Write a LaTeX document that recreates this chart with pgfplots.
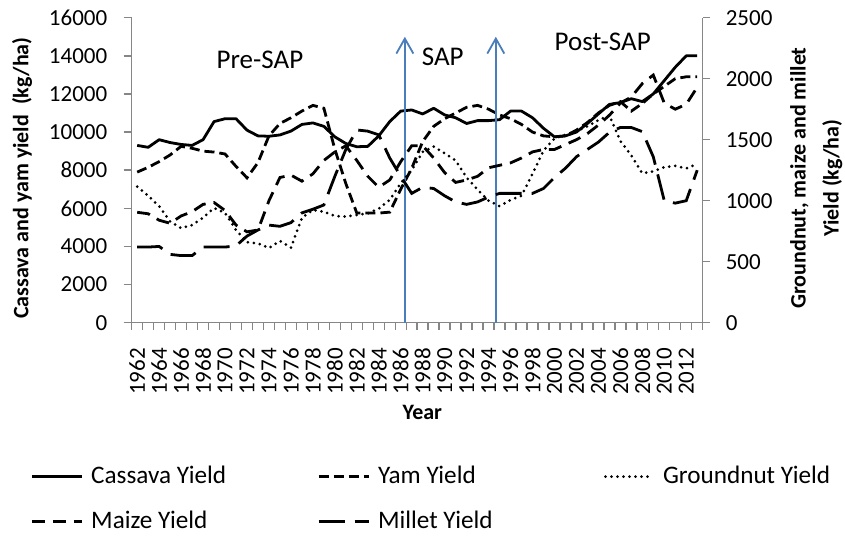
\documentclass[border=0pt]{standalone}
\usepackage{fontspec}
\setmainfont{Carlito}
\usepackage{pgfplots}
\pgfplotsset{compat=1.18}
\usepackage{pgfplotstable}
\usetikzlibrary{arrows.meta}
\definecolor{axgray}{RGB}{134,134,134}
\definecolor{arrowblue}{RGB}{74,126,187}

\pgfplotstableread{
year cassava yam groundnut maize millet
1962 9300 7900 1115 905 620
1963 9200 8150 1040 893 620
1964 9600 8450 955 840 625
1965 9450 8800 830 815 560
1966 9350 9250 775 875 550
1967 9300 9150 800 910 550
1968 9600 9000 860 970 620
1969 10550 8950 940 985 620
1970 10700 8850 900 920 620
1971 10700 8200 760 800 630
1972 10100 7600 660 745 710
1973 9800 8400 650 760 760
1974 9780 9800 612 1000 800
1975 9850 10450 670 1190 790
1976 10050 10750 615 1210 820
1977 10400 11100 860 1160 900
1978 10480 11400 924 1220 930
1979 10300 11250 910 1330 965
1980 9750 9100 875 1400 1200
1981 9400 7300 870 1450 1420
1982 9230 5750 883 1330 1580
1983 9250 5750 895 1200 1570
1984 9800 5750 935 1110 1540
1985 10550 5800 1006 1170 1350
1986 11100 7000 1143 1320 1200
1987 11160 8100 1250 1450 1060
1988 10950 9500 1400 1450 1110
1989 11250 10300 1443 1350 1100
1990 10900 10700 1388 1230 1040
1991 10750 11000 1330 1150 990
1992 10450 11300 1190 1170 970
1993 10600 11400 1090 1200 990
1994 10600 11200 1000 1270 1030
1995 10650 10900 955 1290 1060
1996 11100 10700 1006 1310 1060
1997 11100 10400 1040 1350 1060
1998 10750 10000 1220 1400 1060
1999 10200 9800 1410 1420 1100
2000 9750 9750 1510 1420 1190
2001 9800 9800 1540 1460 1266
2002 10000 10100 1570 1500 1360
2003 10450 10500 1610 1550 1420
2004 10950 11000 1660 1620 1480
2005 11450 11400 1700 1700 1560
2006 11550 11600 1490 1800 1600
2007 11750 11100 1370 1850 1600
2008 11600 11500 1225 1960 1566
2009 12000 12000 1240 2030 1360
2010 12700 12400 1275 1800 1000
2011 13400 12800 1285 1750 980
2012 14000 12900 1265 1790 1000
2013 14000 12900 1300 1930 1250
}\datatable

\pgfplotsset{
  common/.style={
    scale only axis, width=285.5pt, height=152.5pt,
    xmin=1961.5, xmax=2013.5,
    at={(65.85pt,106.15pt)}, anchor=south west,
    axis line style={axgray, line width=0.7pt},
    tick style={axgray, line width=0.7pt},
    font=\fontsize{11.5}{14}\selectfont,
    /pgf/number format/1000 sep={},
    /pgf/number format/assume math mode=true,
    scaled ticks=false,
    tick align=outside,
    clip=false,
  },
  cas/.style={black, line width=1.4pt, line join=round, solid},
  yam/.style={black, line width=1.4pt, dash pattern=on 5pt off 2.5pt},
  gnut/.style={black, line width=1.5pt, line cap=round, dash pattern=on 0pt off 3pt},
  maize/.style={black, line width=1.4pt, dash pattern=on 6.5pt off 4pt},
  millet/.style={black, line width=1.4pt, dash pattern=on 13pt off 5pt},
}

\begin{document}
\begin{tikzpicture}
\useasboundingbox (0,0) rectangle (422.5pt,267.5pt);
\begin{axis}[common,
  axis x line*=bottom, axis y line*=left,
  ymin=0, ymax=16000, ytick={0,2000,...,16000},
  xtick={1962,1964,...,2012},
  minor xtick={1961.5,1962.5,...,2013.5},
  major x tick style={draw=none},
  major tick length=4pt, minor tick length=3.5pt,
  xticklabel style={rotate=90, anchor=east},
  xticklabel shift=5.2pt,
  yticklabel shift=4.7pt,
  xlabel={Year},
  xlabel style={at={(axis description cs:0.509,-0.293)}, anchor=center, font=\bfseries\fontsize{11}{13}\selectfont},
  ylabel={Cassava and yam yield\ \ (kg/ha)},
  ylabel style={at={(axis description cs:-0.192,0.474)}, anchor=center, font=\bfseries\fontsize{11}{13}\selectfont},
]
\addplot[cas] table[x=year, y=cassava] {\datatable};
\addplot[yam] table[x=year, y=yam] {\datatable};
\draw[arrowblue, line width=0.9pt, -{Straight Barb[length=7.5pt, width=8.5pt]}] (axis cs:1986.376,0) -- (axis cs:1986.376,15000);
\draw[arrowblue, line width=0.9pt, -{Straight Barb[length=7.5pt, width=8.5pt]}] (axis cs:1994.659,0) -- (axis cs:1994.659,15000);
\node[font=\fontsize{13.5}{16}\selectfont] at (axis cs:1973.18,13780) {Pre-SAP};
\node[font=\fontsize{13.5}{16}\selectfont] at (axis cs:1989.83,13940) {SAP};
\node[font=\fontsize{13.5}{16}\selectfont] at (axis cs:2004.39,14730) {Post-SAP};
\end{axis}
\begin{axis}[common,
  axis x line=none, axis y line*=right,
  ymin=0, ymax=2500, ytick={0,500,...,2500},
  major tick length=3.5pt,
  yticklabel shift=4.5pt,
  ylabel={Groundnut, maize and millet\\Yield (kg/ha)},
  ylabel style={at={(axis description cs:1.1987,0.474)}, anchor=center, align=center, font=\bfseries\fontsize{11}{16.5}\selectfont},
  legend image code/.code={\draw[#1, line width=1.4pt] (0pt,0pt) -- (25pt,0pt);},
  legend cell align=left,
  legend columns=3,
  legend style={at={(axis description cs:-0.1781,-0.462)}, anchor=north west, draw=none, fill=none, inner sep=0pt,
    font=\fontsize{12.6}{15}\selectfont, row sep=10pt,
    nodes={inner sep=0pt, text height=9.5pt, text depth=3pt},
    /tikz/every odd column/.append style={column sep=4pt},
    /tikz/every even column/.append style={column sep=5pt}},
]
\addlegendimage{cas}\addlegendentry{\makebox[108pt][l]{Cassava Yield}}
\addlegendimage{yam}\addlegendentry{\makebox[108pt][l]{Yam Yield}}
\addplot[gnut, legend image code/.code={\draw[black, line width=1.5pt, line cap=round, dash pattern=on 0pt off 3pt] (1pt,0pt) -- (25pt,0pt);}] table[x=year, y=groundnut] {\datatable};
\addlegendentry{Groundnut Yield}
\addplot[maize] table[x=year, y=maize] {\datatable};
\addlegendentry{\makebox[108pt][l]{Maize Yield}}
\addplot[millet] table[x=year, y=millet] {\datatable};
\addlegendentry{\makebox[108pt][l]{Millet Yield}}
\end{axis}
\end{tikzpicture}
\end{document}
